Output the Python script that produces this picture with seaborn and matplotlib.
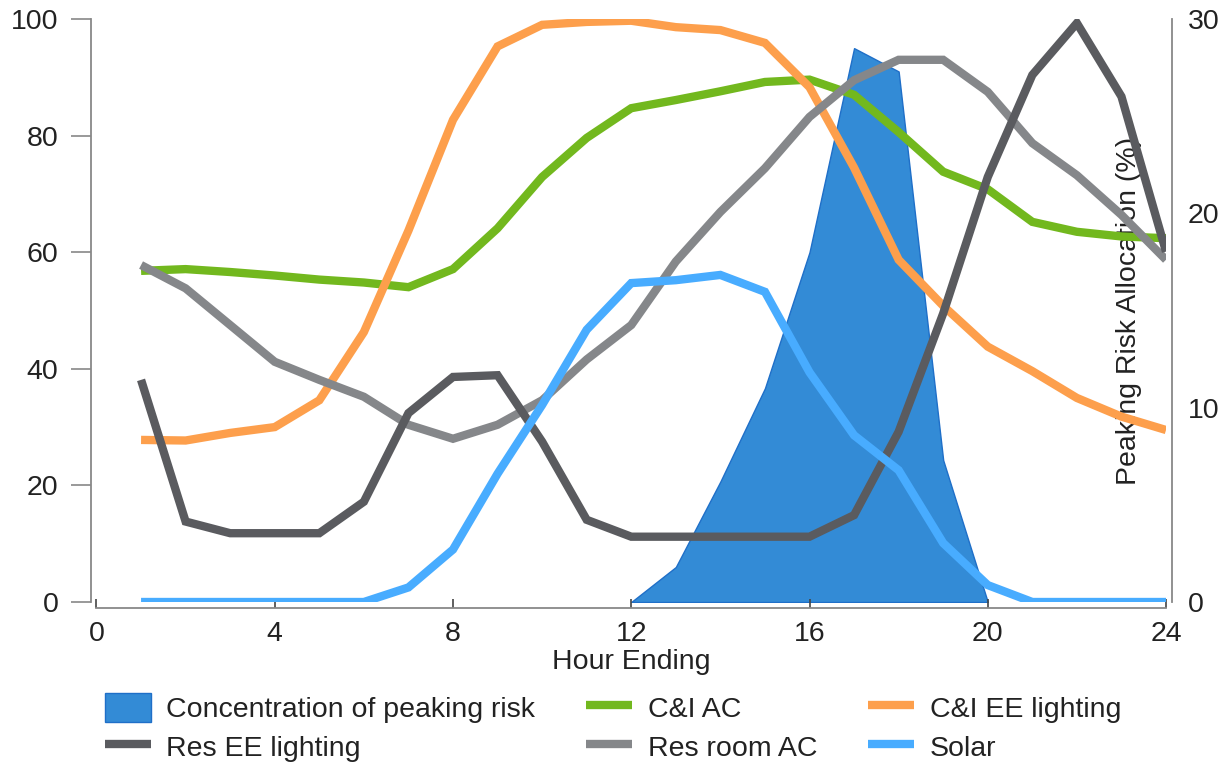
import matplotlib
matplotlib.use("Agg")
import matplotlib.pyplot as plt
import seaborn as sns
from matplotlib.lines import Line2D
from matplotlib.patches import Patch

hours = list(range(1, 25))

ci_ac = [56.8, 57.1, 56.6, 56.0, 55.3, 54.8, 54.0, 57.1, 64.1, 72.9, 79.6, 84.7,
         86.1, 87.6, 89.2, 89.6, 87.0, 80.6, 73.8, 70.8, 65.2, 63.5, 62.7, 62.4]
ci_lighting = [27.8, 27.7, 29.0, 30.0, 34.6, 46.3, 63.7, 82.7, 95.3, 99.0, 99.5, 99.7,
               98.6, 98.1, 95.9, 88.3, 74.5, 58.7, 50.8, 43.8, 39.6, 35.0, 31.8, 29.5]
res_lighting = [38.1, 13.8, 11.8, 11.8, 11.8, 17.2, 32.4, 38.6, 38.9, 27.5, 14.1, 11.2,
                11.2, 11.2, 11.2, 11.2, 14.9, 29.2, 49.5, 72.9, 90.4, 99.3, 86.7, 60.1]
res_room_ac = [57.8, 53.8, 47.5, 41.2, 38.1, 35.2, 30.4, 28.0, 30.4, 34.6, 41.6, 47.5,
               58.4, 66.9, 74.4, 83.2, 89.5, 93.0, 93.0, 87.5, 78.7, 73.2, 66.4, 58.7]
solar = [0, 0, 0, 0, 0, 0, 2.5, 9.0, 22.0, 33.8, 46.7, 54.7,
         55.2, 56.1, 53.2, 39.4, 28.6, 22.6, 10.1, 2.9, 0, 0, 0, 0]

# peaking risk concentration (right axis, %)
risk_hours = list(range(12, 21))
risk = [0, 1.8, 6.2, 11.0, 18.0, 28.5, 27.3, 7.3, 0]

area_label = "Concentration of peaking risk"
area_color = "#338bd6"

lines = [
    ("C&I AC", ci_ac, "#72b81e"),
    ("C&I EE lighting", ci_lighting, "#fd9f4c"),
    ("Res room AC", res_room_ac, "#85878a"),
    ("Res EE lighting", res_lighting, "#5a5b5f"),
    ("Solar", solar, "#48acff"),
]
legend_order = [area_label, "Res EE lighting", "C&I AC", "Res room AC", "C&I EE lighting", "Solar"]

FS = 20.5
TXT = "#222222"
SPINE = "#888888"


def main():
    sns.set_theme(style="ticks")
    plt.rcParams["font.family"] = ["Liberation Sans", "DejaVu Sans"]

    fig = plt.figure(figsize=(12.23, 7.66), dpi=100)
    ax = fig.add_axes([0.0789, 0.2141, 0.8745, 0.7611])
    ax2 = ax.twinx()

    # area on the right axis, kept behind the lines
    ax2.fill_between(risk_hours, risk, color=area_color, edgecolor="#1f6fc8", linewidth=1)
    ax.set_zorder(ax2.get_zorder() + 1)
    ax.patch.set_visible(False)

    for name, vals, col in lines:
        sns.lineplot(x=hours, y=vals, ax=ax, color=col, linewidth=6,
                     solid_capstyle="butt", solid_joinstyle="miter")

    ax.set_xlim(0, 24)
    ax.set_ylim(0, 100)
    ax2.set_ylim(0, 30)
    ax.set_xticks(range(0, 25, 4))
    ax.set_yticks(range(0, 101, 20))
    ax2.set_yticks([0, 10, 20, 30])

    ax.set_xlabel("Hour Ending", fontsize=FS, color=TXT, labelpad=1)
    ax.set_ylabel("")
    ax2.set_ylabel("Peaking Risk Allocation (%)", fontsize=FS, color=TXT)
    ax2.yaxis.set_label_coords(0.965, 0.5)
    ax2.yaxis.label.set_verticalalignment("center")

    ax.tick_params(axis="y", direction="out", length=14.5, width=1.2, pad=9,
                   labelsize=FS, color=SPINE, labelcolor=TXT)
    ax.tick_params(axis="x", direction="in", length=6.5, width=1.2, pad=10,
                   labelsize=FS, color="#444444", labelcolor=TXT)
    ax2.tick_params(axis="y", direction="out", length=8, width=1.2, pad=3.6,
                    labelsize=FS, color="#444444", labelcolor=TXT)

    sns.despine(ax=ax, offset=4)
    sns.despine(ax=ax2, left=True, bottom=True, right=False, offset=4)
    for a in (ax, ax2):
        for sp in a.spines.values():
            sp.set_color(SPINE)
            sp.set_linewidth(1.3)

    handles = {area_label: Patch(facecolor=area_color, edgecolor="#1f6fc8")}
    for name, vals, col in lines:
        handles[name] = Line2D([], [], color=col, linewidth=6, solid_capstyle="butt")
    fig.legend([handles[k] for k in legend_order], legend_order, ncol=3,
               loc="upper left", bbox_to_anchor=(105 / 1223, 1 - 693 / 766),
               frameon=False, borderpad=0, borderaxespad=0, handlelength=1.6,
               handleheight=1.2, handletextpad=0.55, columnspacing=1.8,
               labelspacing=0.3, fontsize=FS, labelcolor=TXT)

    fig.savefig("out.png", dpi=100)


if __name__ == "__main__":
    main()
